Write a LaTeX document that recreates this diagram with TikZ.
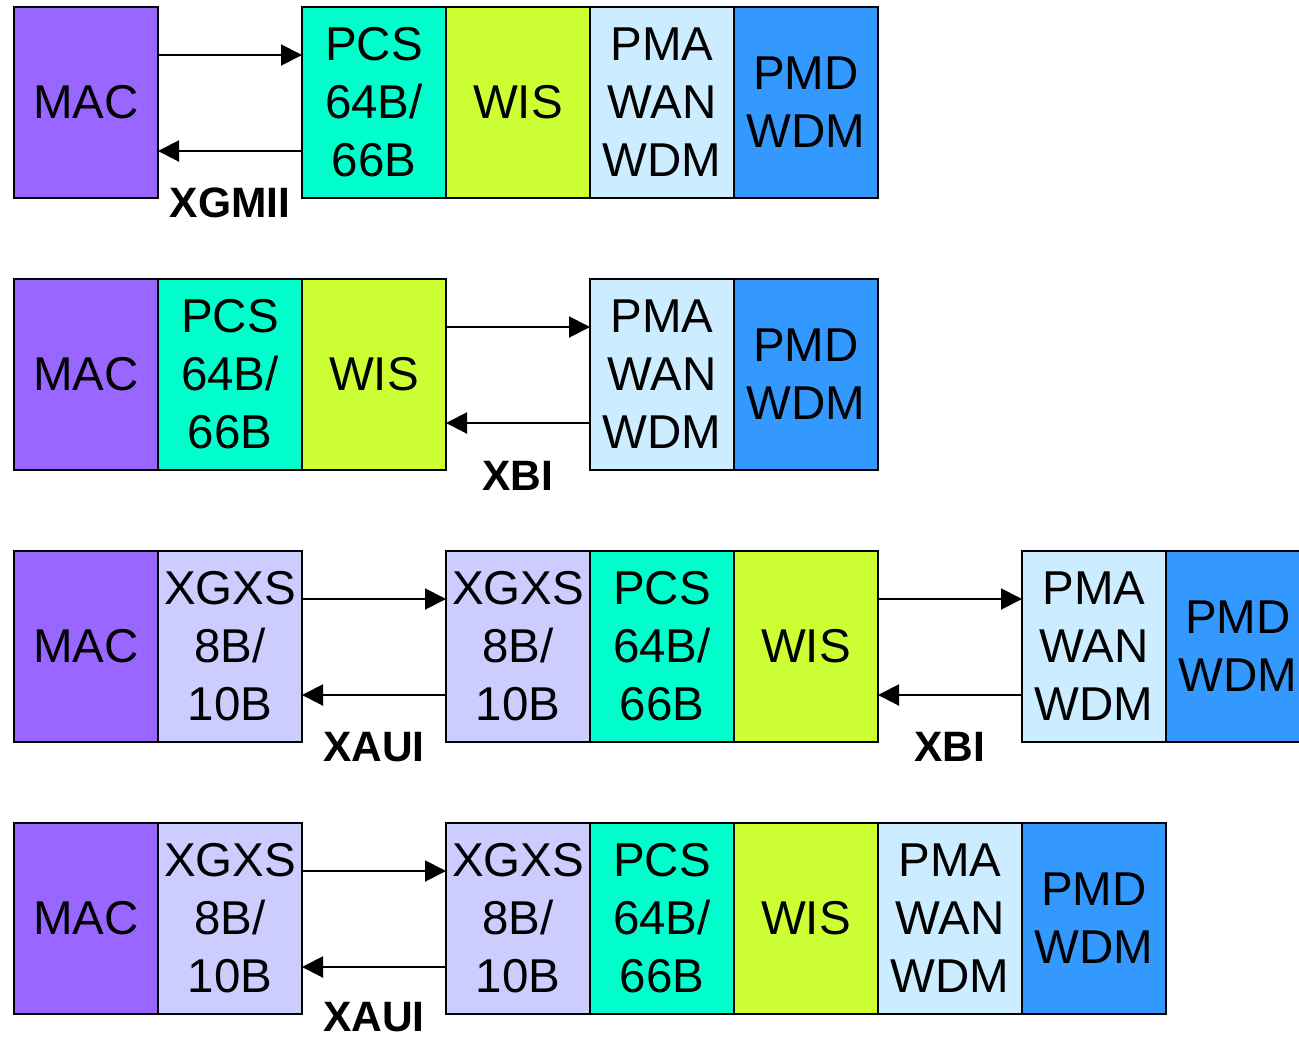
\documentclass[tikz,border=0pt]{standalone}
\usepackage{fontspec}
\setmainfont{Liberation Sans}
\usetikzlibrary{arrows.meta}
\definecolor{cmac}{HTML}{9966FF}
\definecolor{cpcs}{HTML}{00FFCC}
\definecolor{cwis}{HTML}{CCFF33}
\definecolor{cpma}{HTML}{CCECFF}
\definecolor{cpmd}{HTML}{3399FF}
\definecolor{cxg}{HTML}{CCCCFF}
\tikzset{
  blk/.style={draw=black, line width=2pt, minimum width=144pt, minimum height=191pt,
    inner sep=0pt, outer sep=0pt, anchor=north west, align=center, text width=144pt,
    font=\fontsize{47.5}{58}\selectfont},
  mac/.style={blk, fill=cmac},
  pcs/.style={blk, fill=cpcs},
  wis/.style={blk, fill=cwis},
  pma/.style={blk, fill=cpma},
  pmd/.style={blk, fill=cpmd},
  xg/.style={blk, fill=cxg},
  arr/.style={line width=2pt, -{Triangle[length=21pt,width=21pt]}},
  lbl/.style={font=\bfseries\fontsize{42.5}{45}\selectfont, inner sep=0pt}
}
\begin{document}
\begin{tikzpicture}[x=1pt,y=-1pt]
\useasboundingbox (0,0) rectangle (1299,1037);
\begin{scope}
\clip (0,0) rectangle (1299,1037);
% Row 1
\node[mac] (mac1) at (14,7) {MAC};
\node[pcs] (pcs1) at (302,7) {PCS\\64B/\\66B};
\node[wis] (wis1) at (446,7) {WIS};
\node[pma] (pma1) at (590,7) {PMA\\WAN\\WDM};
\node[pmd] (pmd1) at (734,7) {PMD\\WDM};
% Row 2
\node[mac] (mac2) at (14,279) {MAC};
\node[pcs] (pcs2) at (158,279) {PCS\\64B/\\66B};
\node[wis] (wis2) at (302,279) {WIS};
\node[pma] (pma2) at (590,279) {PMA\\WAN\\WDM};
\node[pmd] (pmd2) at (734,279) {PMD\\WDM};
% Row 3
\node[mac] (mac3) at (14,551) {MAC};
\node[xg] (xga3) at (158,551) {XGXS\\8B/\\10B};
\node[xg] (xgb3) at (446,551) {XGXS\\8B/\\10B};
\node[pcs] (pcs3) at (590,551) {PCS\\64B/\\66B};
\node[wis] (wis3) at (734,551) {WIS};
\node[pma] (pma3) at (1022,551) {PMA\\WAN\\WDM};
\node[pmd] (pmd3) at (1166,551) {PMD\\WDM};
% Row 4
\node[mac] (mac4) at (14,823) {MAC};
\node[xg] (xga4) at (158,823) {XGXS\\8B/\\10B};
\node[xg] (xgb4) at (446,823) {XGXS\\8B/\\10B};
\node[pcs] (pcs4) at (590,823) {PCS\\64B/\\66B};
\node[wis] (wis4) at (734,823) {WIS};
\node[pma] (pma4) at (878,823) {PMA\\WAN\\WDM};
\node[pmd] (pmd4) at (1022,823) {PMD\\WDM};
\end{scope}
% Arrows
\draw[arr] ([yshift=-48pt]mac1.north east) -- ([yshift=-48pt]pcs1.north west);
\draw[arr] ([yshift=47pt]pcs1.south west) -- ([yshift=47pt]mac1.south east);
\draw[arr] ([yshift=-48pt]wis2.north east) -- ([yshift=-48pt]pma2.north west);
\draw[arr] ([yshift=47pt]pma2.south west) -- ([yshift=47pt]wis2.south east);
\draw[arr] ([yshift=-48pt]xga3.north east) -- ([yshift=-48pt]xgb3.north west);
\draw[arr] ([yshift=47pt]xgb3.south west) -- ([yshift=47pt]xga3.south east);
\draw[arr] ([yshift=-48pt]wis3.north east) -- ([yshift=-48pt]pma3.north west);
\draw[arr] ([yshift=47pt]pma3.south west) -- ([yshift=47pt]wis3.south east);
\draw[arr] ([yshift=-48pt]xga4.north east) -- ([yshift=-48pt]xgb4.north west);
\draw[arr] ([yshift=47pt]xgb4.south west) -- ([yshift=47pt]xga4.south east);
% Labels
\node[lbl] (l1) at (230,203) {XGMII};
\node[lbl] (l2) at (518,476) {XBI};
\node[lbl] (l3) at (374,747) {XAUI};
\node[lbl] (l4) at (950,747) {XBI};
\node[lbl] (l5) at (374,1017) {XAUI};
\end{tikzpicture}
\end{document}
